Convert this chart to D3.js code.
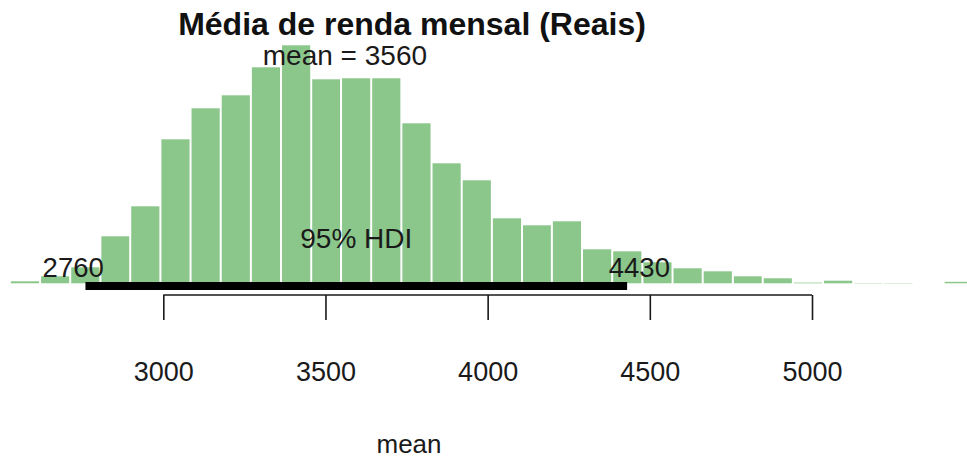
<!DOCTYPE html>
<html>
<head>
<meta charset="utf-8">
<script src="https://cdn.jsdelivr.net/npm/d3@7"></script>
<style>
  body { margin: 0; background: #fff; }
  svg { display: block; font-family: "Liberation Sans", Arial, sans-serif; }
</style>
</head>
<body>
<svg id="chart" width="967" height="459"></svg>
<script>
// histogram bin edges (Reais) and bar heights (relative frequency)
const binEdges = [2527, 2620, 2713, 2806, 2898, 2991, 3084, 3177, 3270, 3363, 3456,
                  3548, 3641, 3734, 3827, 3920, 4013, 4106, 4198, 4291, 4384, 4477,
                  4570, 4663, 4756, 4848, 4941, 5034, 5127, 5220, 5313, 5406, 5499];
const binCounts = [2, 7, 16, 47, 77, 144, 175, 188, 216, 238, 204, 205, 205, 160, 120, 103,
                   65, 58, 62, 34, 32, 21, 15, 12, 7, 5, 0.7, 2.6, 0.3, 0.3, 0, 1.5];
const tickValues = [3000, 3500, 4000, 4500, 5000];
const meanValue = 3560;
const hdiLimits = [2760, 4430];
const titleText = 'Média de renda mensal (Reais)';
const xLabel = 'mean';

class PosteriorHistogram {
    constructor() {
        this.svg = d3.select('#chart');
        this.BASELINE = 283.3;
        this.TOP = 45.3;
        this.AXIS_Y = 295;
        this.GAP = 2; // white border between bars

        this.bins = binCounts.map((c, i) => ({x0: binEdges[i], x1: binEdges[i + 1], count: c}));

        this.xScale = d3.scaleLinear()
            .domain([3000, 5000])
            .range([163.3, 812]);

        this.yScale = d3.scaleLinear()
            .domain([0, d3.max(binCounts)])
            .range([this.BASELINE, this.TOP]);

        this.drawChart();
    }

    drawChart() {
        this.drawBars();
        this.drawHdi();
        this.drawAxis();
        this.drawLabels();
    }

    drawBars() {
        this.svg.append('g')
            .selectAll('rect')
            .data(this.bins)
            .join('rect')
            .attr('x', d => this.xScale(d.x0) + this.GAP / 2)
            .attr('width', d => this.xScale(d.x1) - this.xScale(d.x0) - this.GAP)
            .attr('y', d => this.yScale(d.count))
            .attr('height', d => this.BASELINE - this.yScale(d.count))
            .attr('fill', '#8bc68b');
    }

    drawHdi() {
        this.svg.append('line')
            .attr('x1', this.xScale(hdiLimits[0]))
            .attr('x2', this.xScale(hdiLimits[1]))
            .attr('y1', 286)
            .attr('y2', 286)
            .attr('stroke', 'black')
            .attr('stroke-width', 8);

        // limit labels sit like R's adj = c(0.7, -0.5) / c(0.3, -0.5)
        const place = [0.7, 0.3];
        hdiLimits.forEach((v, i) => {
            const t = this.svg.append('text')
                .attr('y', 277)
                .attr('font-size', 27.5)
                .attr('fill', '#1a1a1a')
                .text(v);
            const w = t.node().getComputedTextLength();
            t.attr('x', this.xScale(v) - place[i] * w);
        });

        this.svg.append('text')
            .attr('x', this.xScale(d3.mean(hdiLimits)))
            .attr('y', 248)
            .attr('text-anchor', 'middle')
            .attr('font-size', 28)
            .attr('fill', '#1a1a1a')
            .text('95% HDI');
    }

    drawAxis() {
        let xAxis = d3.axisBottom(this.xScale)
            .tickValues(tickValues)
            .tickFormat(d3.format('d'))
            .tickSize(25)
            .tickPadding(42);

        let g = this.svg.append('g')
            .attr('transform', `translate(0, ${this.AXIS_Y})`)
            .call(xAxis);

        g.select('.domain')
            .attr('d', `M${this.xScale(tickValues[0])},0H${this.xScale(tickValues[tickValues.length - 1])}`)
            .attr('stroke', '#1a1a1a')
            .attr('stroke-width', 1.6);
        g.selectAll('.tick line')
            .attr('stroke', '#1a1a1a')
            .attr('stroke-width', 1.6);
        g.selectAll('.tick text')
            .attr('font-size', 27)
            .attr('font-family', '"Liberation Sans", Arial, sans-serif')
            .attr('fill', '#1a1a1a');
    }

    drawLabels() {
        this.svg.append('text')
            .attr('x', 412)
            .attr('y', 35)
            .attr('text-anchor', 'middle')
            .attr('font-size', 32)
            .attr('font-weight', 'bold')
            .attr('fill', '#111')
            .text(titleText);

        this.svg.append('text')
            .attr('x', this.xScale(meanValue))
            .attr('y', 65)
            .attr('text-anchor', 'middle')
            .attr('font-size', 28)
            .attr('fill', '#1a1a1a')
            .text(`mean = ${meanValue}`);

        this.svg.append('text')
            .attr('x', 409)
            .attr('y', 453)
            .attr('text-anchor', 'middle')
            .attr('font-size', 26)
            .attr('fill', '#1a1a1a')
            .text(xLabel);
    }
}

new PosteriorHistogram();
</script>
</body>
</html>
